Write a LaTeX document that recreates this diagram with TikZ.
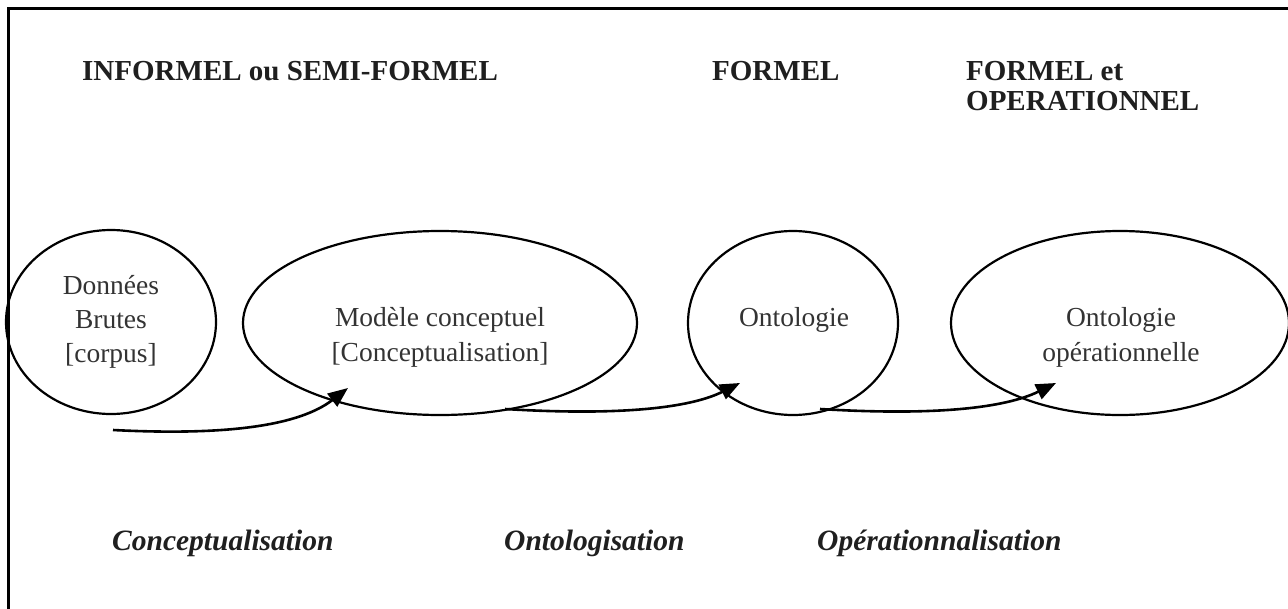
\documentclass[tikz,border=0pt]{standalone}
\usepackage{fontspec}
\setmainfont{Liberation Serif}
\usetikzlibrary{shapes.geometric,arrows.meta}
\begin{document}
\begin{tikzpicture}[x=1pt,y=-1pt,
  bubble/.style={draw, ellipse, line width=2.2pt, inner sep=0pt, minimum height=184pt},
  body/.style={font=\fontsize{27.5}{34}\selectfont, text=black!80, inner sep=0pt, anchor=base},
  head/.style={font=\bfseries\fontsize{29}{30}\selectfont, text=black!88, inner sep=0pt, anchor=base west},
  stage/.style={font=\bfseries\itshape\fontsize{29.5}{30}\selectfont, text=black!88, inner sep=0pt, anchor=base west},
  flow/.style={line width=2.6pt, -{Triangle[length=20pt,width=16pt]}},
]
\useasboundingbox (0,0) rectangle (1288,608);

% open frame: left and top edges only
\draw[line width=3pt] (8,610) -- (8,8) -- (1290,8);

% levels of formality
\node[head] (h1) at (82,80)  {INFORMEL ou SEMI-FORMEL};
\node[head] (h2) at (712,80) {FORMEL};
\node[head] (h3) at (966,80) {FORMEL et};
\node[head] (h4) at (966,110) {OPERATIONNEL};

% artefacts
\node[bubble, minimum width=210pt] (raw)   at (111,322)  {};
\node[bubble, minimum width=394pt] (model) at (440,323)  {};
\node[bubble, minimum width=210pt] (onto)  at (793,323)  {};
\node[bubble, minimum width=338pt] (oper)  at (1120,323) {};

\node[body] (raw1) at (111,294) {Données};
\node[body] (raw2) at (111,328) {Brutes};
\node[body] (raw3) at (111,362) {[corpus]};
\node[body] (mod1) at (440,326) {Modèle conceptuel};
\node[body] (mod2) at (440,361) {[Conceptualisation]};
\node[body] (ont1) at (794,326) {Ontologie};
\node[body] (opr1) at (1121,326) {Ontologie};
\node[body] (opr2) at (1121,361) {opérationnelle};

% transformation steps
\coordinate (c1s) at (113,430);
\coordinate (c1e) at (348,388);
\coordinate (c2s) at (505,409);
\coordinate (c2e) at (740,383);
\coordinate (c3s) at (820,409);
\coordinate (c3e) at (1056,383);
\draw[flow] (c1s) .. controls (230,436) and (300,425) .. (c1e);
\draw[flow] (c2s) .. controls (620,416) and (690,408) .. (c2e);
\draw[flow] (c3s) .. controls (935,416) and (1005,408) .. (c3e);

\node[stage] (s1) at (112,550) {Conceptualisation};
\node[stage] (s2) at (504,550) {Ontologisation};
\node[stage] (s3) at (817,550) {Opérationnalisation};
\end{tikzpicture}
\end{document}
